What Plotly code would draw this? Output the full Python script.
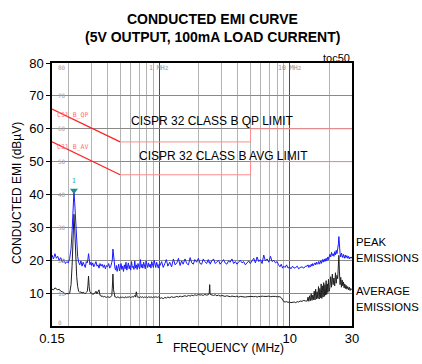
import plotly.graph_objects as go

# ---------------- data ----------------
freq_mhz = [
    0.150, 0.154, 0.158, 0.162, 0.166, 0.170, 0.175, 0.180, 0.185, 0.190, 0.195, 0.200,
    0.205, 0.210, 0.214, 0.218, 0.221, 0.224, 0.228, 0.232, 0.236, 0.240,
    0.245, 0.250, 0.255, 0.260, 0.265, 0.270, 0.275, 0.280,
    0.283, 0.286, 0.289, 0.293, 0.298,
    0.303, 0.308, 0.314, 0.320, 0.326, 0.332, 0.338, 0.344, 0.350, 0.357,
    0.364, 0.371, 0.378, 0.385, 0.392, 0.400, 0.408, 0.416, 0.424, 0.431,
    0.435, 0.440, 0.445, 0.450, 0.456,
    0.462, 0.468, 0.474, 0.480, 0.487, 0.494, 0.501, 0.508, 0.515, 0.522,
    0.530, 0.538, 0.546, 0.554, 0.562, 0.570, 0.578, 0.586, 0.594, 0.602,
    0.611, 0.620, 0.629, 0.638, 0.647, 0.656, 0.665, 0.675, 0.685, 0.695,
    0.705, 0.715, 0.725, 0.735, 0.746, 0.757, 0.768, 0.779, 0.790, 0.801,
    0.813, 0.825, 0.837, 0.849, 0.861, 0.873, 0.886, 0.899, 0.912, 0.925,
    0.938, 0.952, 0.966, 0.980, 0.994,
    1.01, 1.04, 1.07, 1.10, 1.13, 1.16, 1.20, 1.24, 1.28, 1.32,
    1.36, 1.40, 1.44, 1.48, 1.52, 1.57, 1.62, 1.67, 1.72, 1.77,
    1.82, 1.87, 1.93, 1.99, 2.05, 2.11, 2.17, 2.23, 2.30, 2.37,
    2.41, 2.43, 2.45, 2.52, 2.60, 2.68, 2.76, 2.84, 2.92, 3.01,
    3.10, 3.19, 3.29, 3.39, 3.49, 3.60, 3.71, 3.82, 3.93, 4.05,
    4.17, 4.30, 4.43, 4.56, 4.70, 4.84, 4.98,
    5.13, 5.29, 5.45, 5.61, 5.78, 5.95, 6.13, 6.31, 6.50, 6.70,
    6.90, 7.11, 7.32, 7.54, 7.77, 8.00,
    8.20, 8.40, 8.60, 8.80, 9.00, 9.20, 9.45, 9.70, 9.95, 10.2,
    10.5, 10.8, 11.1, 11.4, 11.7, 12.0, 12.4, 12.8, 13.2,
    13.6, 13.8, 14.0, 14.2, 14.4, 14.6, 14.8, 15.0, 15.2, 15.4,
    15.6, 15.8, 16.0, 16.2, 16.4, 16.6, 16.8, 17.0, 17.2, 17.4,
    17.6, 17.8, 18.0, 18.2, 18.4, 18.6, 18.8, 19.0, 19.2, 19.4,
    19.6, 19.8, 20.0,
    20.3, 20.6, 20.9, 21.2, 21.5, 21.8, 22.1, 22.4, 22.7, 23.0,
    23.3, 23.6, 23.8, 24.0, 24.3, 24.6, 24.9, 25.2, 25.5, 25.8,
    26.1, 26.4, 26.7, 27.0, 27.4, 27.8, 28.2, 28.6, 29.0, 29.4,
    29.8, 30.0,
]

peak_dbuv = [
    21.6, 20.4, 22.0, 20.6, 21.2, 20.0, 20.8, 19.4, 20.2, 19.0, 19.6, 19.2,
    20.6, 23.5, 29.0, 36.0, 40.8, 37.5, 30.5, 24.5, 21.2, 19.4,
    18.6, 19.8, 18.2, 19.4, 18.8, 17.8, 19.6, 19.2,
    20.4, 22.0, 20.6, 18.6, 19.4,
    18.4, 19.2, 18.0, 18.8, 19.6, 18.2, 18.6, 17.6, 19.0, 18.2,
    18.8, 17.8, 18.6, 17.4, 18.4, 18.0, 19.0, 17.6, 18.2, 19.4,
    20.0, 23.4, 21.0, 18.6, 17.6,
    17.0, 18.4, 16.6, 17.8, 18.8, 16.8, 17.6, 19.0, 17.2, 18.2,
    16.6, 18.6, 17.4, 19.4, 17.0, 18.0, 19.2, 17.4, 18.4, 17.0,
    19.6, 17.8, 18.2, 17.2, 19.8, 17.6, 18.6, 17.2, 19.0, 18.0,
    17.4, 20.2, 17.8, 18.8, 17.6, 19.4, 18.2, 17.4, 19.8, 18.4,
    17.8, 19.2, 18.0, 18.8, 17.6, 19.6, 18.2, 17.8, 20.0, 18.4,
    17.8, 19.4, 18.6, 17.6, 18.8,
    18.4, 19.6, 17.8, 19.0, 20.2, 18.2, 19.4, 18.0, 20.4, 18.6,
    19.2, 20.6, 18.4, 19.8, 18.8, 20.4, 19.0, 18.6, 20.8, 19.2,
    18.8, 20.2, 19.4, 20.6, 19.0, 18.8, 20.4, 19.6, 19.0, 20.2,
    19.2, 19.6, 18.8, 19.8, 20.4, 19.0, 19.4, 20.0, 18.8, 19.6,
    20.2, 19.2, 18.8, 19.8, 19.4, 20.4, 19.0, 19.6, 18.8, 19.4,
    20.0, 19.2, 19.6, 18.6, 19.4, 19.8, 19.0,
    19.8, 20.6, 19.2, 21.0, 19.6, 20.2, 19.0, 21.6, 19.8, 20.4,
    19.4, 21.2, 19.6, 20.0, 19.2, 19.6,
    18.6, 18.0, 18.8, 17.6, 18.2, 17.8, 18.6, 17.6, 18.0, 17.4,
    18.2, 17.6, 17.8, 18.2, 17.4, 17.8, 18.0, 17.6, 18.2,
    18.2, 18.6, 17.8, 18.4, 18.0, 18.8, 18.2, 19.0, 18.4, 18.8,
    19.2, 18.6, 19.4, 18.8, 19.0, 19.6, 18.8, 19.4, 19.8, 19.0,
    19.6, 20.2, 19.4, 19.8, 20.4, 19.6, 20.0, 20.6, 19.8, 20.4,
    21.0, 20.2, 21.4,
    21.8, 21.0, 22.4, 21.4, 22.0, 21.2, 22.6, 21.6, 23.0, 22.0,
    23.4, 25.0, 27.2, 24.0, 22.0, 21.0, 22.2, 21.4, 20.8, 21.8,
    21.2, 20.6, 21.6, 20.8, 21.4, 20.6, 21.2, 20.4, 21.0, 20.6,
    21.0, 20.6,
]

avg_dbuv = [
    11.2, 11.0, 11.6, 11.4, 11.0, 11.2, 10.6, 10.4, 10.0, 9.7, 9.9, 9.8,
    10.0, 12.6, 18.5, 27.5, 34.0, 29.5, 21.5, 15.0, 12.0, 10.6,
    10.2, 10.4, 10.0, 10.3, 10.0, 9.9, 10.2, 10.6,
    12.4, 15.2, 12.0, 10.4, 10.0,
    10.0, 9.6, 9.8, 10.0, 10.6, 9.8, 10.4, 11.0, 9.4, 9.0,
    9.2, 8.8, 9.0, 8.9, 8.7, 8.9, 8.8, 8.7, 8.9, 9.2,
    11.5, 15.8, 11.0, 9.0, 8.8,
    8.8, 8.6, 8.9, 8.7, 8.8, 8.5, 8.7, 8.9, 8.6, 8.8,
    8.7, 8.5, 8.8, 8.9, 8.6, 8.8, 8.7, 9.0, 8.7, 8.6,
    8.8, 9.0, 8.7, 8.9, 9.3, 8.8, 10.4, 8.9, 8.7, 8.8,
    8.6, 8.9, 8.7, 8.8, 8.9, 8.6, 8.8, 8.7, 8.9, 8.8,
    8.6, 8.9, 8.8, 8.7, 8.9, 8.8, 8.6, 8.9, 8.8, 8.7,
    8.9, 8.8, 8.7, 8.9, 8.6,
    8.4, 8.6, 8.3, 8.7, 8.5, 8.8, 8.6, 8.9, 8.7, 8.8,
    9.0, 8.8, 9.1, 8.9, 9.0, 9.2, 9.0, 9.3, 9.1, 9.4,
    9.2, 9.5, 9.3, 9.6, 9.4, 9.5, 9.3, 9.6, 9.4, 9.5,
    10.0, 12.6, 9.6, 9.4, 9.3, 9.5, 9.2, 9.4, 9.1, 9.3,
    9.2, 9.0, 9.2, 9.1, 8.9, 9.1, 9.0, 8.9, 9.1, 8.8,
    9.0, 8.9, 9.0, 8.8, 8.9, 9.0, 8.9,
    9.0, 8.9, 9.0, 8.8, 9.0, 8.9, 9.1, 9.0, 8.9, 9.0,
    9.1, 8.9, 9.0, 9.1, 9.0, 8.9,
    9.0, 8.9, 8.6, 7.8, 7.4, 7.3, 7.4, 7.2, 7.3, 7.1,
    7.2, 7.3, 7.1, 7.4, 7.3, 7.6, 7.5, 7.8, 7.6,
    7.6, 8.8, 7.5, 9.2, 7.7, 9.8, 7.8, 9.4, 8.0, 10.6,
    7.9, 11.2, 8.2, 10.4, 8.4, 12.0, 8.2, 11.4, 8.6, 12.8,
    8.4, 12.2, 8.8, 13.2, 9.0, 12.6, 9.4, 13.8, 9.6, 12.8,
    10.2, 14.2, 10.6,
    11.6, 15.0, 11.8, 15.8, 12.6, 14.6, 12.2, 16.2, 13.0, 15.4,
    14.4, 18.5, 21.5, 17.0, 12.6, 14.8, 11.8, 14.0, 12.2, 13.4,
    11.6, 12.8, 11.4, 12.4, 11.2, 12.0, 11.0, 11.8, 10.8, 11.4,
    11.2, 11.0,
]

assert len(freq_mhz) == len(peak_dbuv) == len(avg_dbuv), (len(freq_mhz), len(peak_dbuv), len(avg_dbuv))

# CISPR 32 class B limits
limit_freq = [0.15, 0.5, 5.0, 5.0, 30.0]
qp_limit = [66, 56, 56, 60, 60]
avg_limit = [56, 46, 46, 50, 50]

marker_freq = [0.221]
marker_db = [41.2]

x_tick_vals = [0.15, 1, 10, 30]
x_tick_text = ["0.15", "1", "10", "30"]
x_minor_vals = [0.2, 0.3, 0.4, 0.5, 0.6, 0.7, 0.8, 0.9, 2, 3, 4, 5, 6, 7, 8, 9, 20]
y_tick_vals = [10, 20, 30, 40, 50, 60, 70, 80]
inner_y_labels = [0, 10, 20, 30, 40, 50, 60, 70, 80]

# ---------------- figure ----------------
L, R, T, B = 52, 70, 63, 38
W, H = 422, 364
PW, PH = W - L - R, H - T - B


def px(x):
    return (x - L) / PW


def py(y):
    return (H - B - y) / PH


FONT = "Liberation Sans, Arial, sans-serif"
MONO = "DejaVu Sans Mono, monospace"

fig = go.Figure()

# limits: sloped part bright red, flat part light red
fig.add_trace(go.Scatter(x=limit_freq[:2], y=qp_limit[:2], mode="lines",
                         line=dict(color="#ff2020", width=1.2), hoverinfo="skip"))
fig.add_trace(go.Scatter(x=limit_freq[1:], y=qp_limit[1:], mode="lines",
                         line=dict(color="#ff8c8c", width=1), hoverinfo="skip"))
fig.add_trace(go.Scatter(x=limit_freq[:2], y=avg_limit[:2], mode="lines",
                         line=dict(color="#ff2020", width=1.2), hoverinfo="skip"))
fig.add_trace(go.Scatter(x=limit_freq[1:], y=avg_limit[1:], mode="lines",
                         line=dict(color="#ff8c8c", width=1), hoverinfo="skip"))

fig.add_trace(go.Scatter(x=freq_mhz, y=avg_dbuv, mode="lines",
                         line=dict(color="#202020", width=1)))
fig.add_trace(go.Scatter(x=freq_mhz, y=peak_dbuv, mode="lines",
                         line=dict(color="#1a1aff", width=1)))
fig.add_trace(go.Scatter(x=marker_freq, y=marker_db, mode="markers+text",
                         marker=dict(symbol="triangle-down", size=7, color="#1a9090"),
                         text=["1"], textposition="top center",
                         textfont=dict(size=7, color="#2ab0b0", family=MONO)))

fig.update_layout(
    width=W, height=H,
    margin=dict(l=L, r=R, t=T, b=B),
    paper_bgcolor="white", plot_bgcolor="white",
    showlegend=False,
    xaxis=dict(
        type="log", range=[-0.82391, 1.47712],
        tickmode="array", tickvals=x_tick_vals, ticktext=x_tick_text,
        ticks="", showgrid=True, gridcolor="#505050", gridwidth=1,
        minor=dict(tickmode="array", tickvals=x_minor_vals, showgrid=True,
                   gridcolor="#b4b4b4", gridwidth=1, ticks=""),
        showline=True, linecolor="black", linewidth=1.5, mirror=True,
        tickfont=dict(family=FONT, size=13, color="black"),
        zeroline=False,
    ),
    yaxis=dict(
        range=[0, 80], tickmode="array", tickvals=y_tick_vals,
        ticks="outside", ticklen=4, tickcolor="black",
        showgrid=True, gridcolor="#8a8a8a", gridwidth=1,
        showline=True, linecolor="black", linewidth=1.5, mirror=True,
        tickfont=dict(family=FONT, size=13, color="black"),
        zeroline=False,
    ),
)

ann = []
# titles
ann.append(dict(text="<b>CONDUCTED EMI CURVE</b>", x=px(212), y=py(18.5),
                font=dict(family=FONT, size=14, color="black")))
ann.append(dict(text="<b>(5V OUTPUT, 100mA LOAD CURRENT)</b>", x=px(212), y=py(37.5),
                font=dict(family=FONT, size=14, color="black")))
ann.append(dict(text="toc50", x=1.0, y=py(58), xanchor="right",
                font=dict(family=FONT, size=11, color="black")))
# axis titles
ann.append(dict(text="FREQUENCY (MHz)", x=px(228), y=py(348),
                font=dict(family=FONT, size=12, color="black")))
ann.append(dict(text="CONDUCTED EMI (dBµV)", x=px(17), y=py(193), textangle=-90,
                font=dict(family=FONT, size=12, color="black")))
# limit labels
ann.append(dict(text="CISPR 32 CLASS B QP LIMIT", x=px(212), y=py(121.5),
                font=dict(family=FONT, size=12, color="black")))
ann.append(dict(text="CISPR 32 CLASS B AVG LIMIT", x=px(223.5), y=py(156),
                font=dict(family=FONT, size=12, color="black")))
# right labels
for t, yy in [("PEAK", 241.5), ("EMISSIONS", 258.3), ("AVERAGE", 291), ("EMISSIONS", 306.5)]:
    ann.append(dict(text=t, x=px(354), y=py(yy), xanchor="left",
                    font=dict(family=FONT, size=11.3, color="black")))
# small analyser labels
for t, yy in [("C31_B_QP", 115), ("C31_B_AV", 147)]:
    ann.append(dict(text=t, x=px(55), y=py(yy), xanchor="left",
                    font=dict(family=MONO, size=6.5, color="#ff7070")))
for v in inner_y_labels:
    shift = -4 if v == 80 else (4 if v == 0 else 0)
    ann.append(dict(text=str(v), xref="paper", yref="y", x=0.012, y=v, xanchor="left",
                    yshift=shift,
                    font=dict(family=MONO, size=6, color="#a0a0a0")))
for t, fv in [("1 MHz", 0.0), ("10 MHz", 1.0)]:
    ann.append(dict(text=t, xref="x", yref="paper", x=fv, y=py(68),
                    font=dict(family=MONO, size=6.5, color="#909090")))

for a in ann:
    a.setdefault("xref", "paper")
    a.setdefault("yref", "paper")
    a.setdefault("showarrow", False)
    a.setdefault("xanchor", "center")
    a.setdefault("yanchor", "middle")
fig.update_layout(annotations=ann)

fig.write_html("out.html", config={"displayModeBar": False},
               post_script="document.body.style.margin='0';")
